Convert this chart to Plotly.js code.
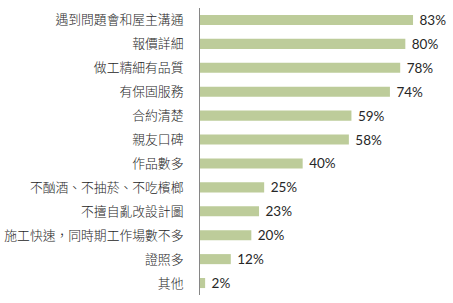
<!DOCTYPE html>
<html><head><meta charset="utf-8">
<script src="https://cdn.plot.ly/plotly-3.0.1.min.js"></script>
<style>html,body{margin:0;padding:0;background:#fff}#chart{width:453px;height:303px}</style>
</head><body><div id="chart"></div>
<script>
const categories = ["遇到問題會和屋主溝通","報價詳細","做工精細有品質","有保固服務","合約清楚","親友口碑","作品數多","不酗酒、不抽菸、不吃檳榔","不擅自亂改設計圖","施工快速，同時期工作場數不多","證照多","其他"];
const values = [83,80,78,74,59,58,40,25,23,20,12,2];

Plotly.newPlot('chart', [{
  type: 'bar', orientation: 'h',
  y: categories, x: values,
  marker: {color: '#BDCC9A'},
  texttemplate: ' %{x}%', textposition: 'outside', cliponaxis: false,
  constraintext: 'none',
  textfont: {family: 'Lato, sans-serif', size: 13.5, color: '#262626'},
  hoverinfo: 'none'
}], {
  width: 453, height: 303,
  margin: {l: 200, r: 22, t: 8, b: 8},
  paper_bgcolor: '#fff', plot_bgcolor: '#fff',
  showlegend: false, bargap: 0.58,
  xaxis: {range: [0, 90], visible: false, showgrid: false, zeroline: false},
  yaxis: {autorange: 'reversed', showline: true, linecolor: '#868686', linewidth: 1,
    ticks: '', ticklabelstandoff: 13, showgrid: false, zeroline: false,
    tickfont: {family: '"Noto Sans CJK TC", sans-serif', size: 12.8, weight: 300, color: '#262626'}},
  font: {family: '"Noto Sans CJK TC", sans-serif'}
}, {displayModeBar: false, staticPlot: true});
</script></body></html>
